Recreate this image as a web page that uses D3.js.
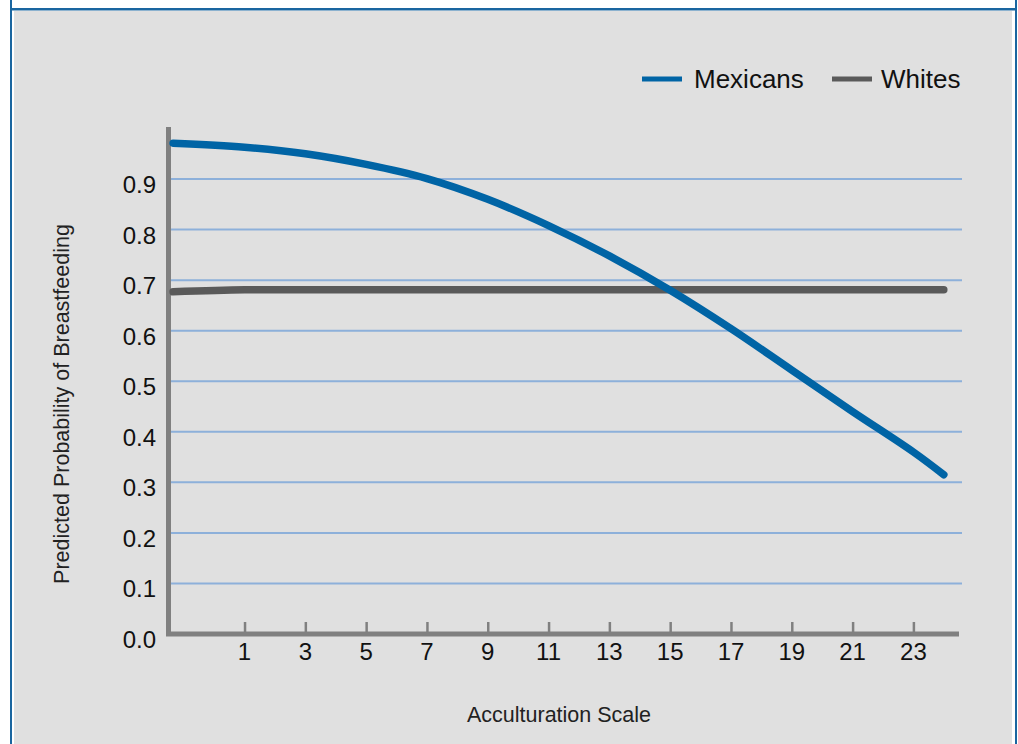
<!DOCTYPE html>
<html>
<head>
<meta charset="utf-8">
<script src="https://cdn.jsdelivr.net/npm/d3@7"></script>
<style>
  body { margin: 0; background: #ffffff; }
  svg { display: block; font-family: "Liberation Sans", Arial, sans-serif; }
</style>
</head>
<body>
<svg id="chart" width="1018" height="744"></svg>
<script>
// ---- data ----
const seriesNames = ["Mexicans", "Whites"];
const xValues = [-1.35, 1, 3, 5, 7, 9, 11, 13, 15, 17, 19, 21, 23, 24];
const mexicans = [0.971, 0.963, 0.950, 0.929, 0.901, 0.860, 0.808, 0.748, 0.680, 0.604, 0.522, 0.440, 0.360, 0.315];
const whites   = [0.677, 0.681, 0.681, 0.681, 0.681, 0.681, 0.681, 0.681, 0.681, 0.681, 0.681, 0.681, 0.681, 0.681];
const xTicks = [1, 3, 5, 7, 9, 11, 13, 15, 17, 19, 21, 23];
const yTicks = [0.0, 0.1, 0.2, 0.3, 0.4, 0.5, 0.6, 0.7, 0.8, 0.9];
const xTitle = "Acculturation Scale";
const yTitle = "Predicted Probability of Breastfeeding";
const colors = ["#0064a5", "#5a5a5a"];

const svg = d3.select("#chart");

// ---- frame ----
svg.append("rect").attr("x", 14).attr("y", 11).attr("width", 998).attr("height", 733).attr("fill", "#e0e0e0");
svg.append("rect").attr("x", 10).attr("y", 0).attr("width", 2).attr("height", 744).attr("fill", "#1a66a0");
svg.append("rect").attr("x", 1015).attr("y", 0).attr("width", 2).attr("height", 744).attr("fill", "#1a66a0");
svg.append("rect").attr("x", 10).attr("y", 8).attr("width", 1007).attr("height", 2.5).attr("fill", "#1a66a0");

// ---- scales ----
const x = d3.scaleLinear().domain([-1.55, 24.5]).range([167, 959]);
const y = d3.scaleLinear().domain([0, 1]).range([634, 128.5]);

// gridlines
svg.append("g").selectAll("line").data(yTicks.filter(d => d > 0)).join("line")
  .attr("x1", 170).attr("x2", 962)
  .attr("y1", d => y(d)).attr("y2", d => y(d))
  .attr("stroke", "#8db0da").attr("stroke-width", 2);

// y tick labels
svg.append("g").selectAll("text").data(yTicks).join("text")
  .attr("x", 156).attr("y", d => y(d) + 14)
  .attr("text-anchor", "end")
  .attr("font-size", 24).attr("fill", "#111")
  .text(d => d.toFixed(1));

// x axis via d3 axis (ticks upward)
const xAxis = svg.append("g").attr("transform", "translate(0,632)")
  .call(d3.axisTop(x).tickValues(xTicks).tickSize(10).tickFormat(""));
xAxis.select(".domain").remove();
xAxis.selectAll(".tick line").attr("stroke", "#808080").attr("stroke-width", 2.5);

svg.append("g").selectAll("text").data(xTicks).join("text")
  .attr("x", d => x(d)).attr("y", 660)
  .attr("text-anchor", "middle")
  .attr("font-size", 24).attr("fill", "#111")
  .text(d => d);

// axis lines
svg.append("line").attr("x1", 168.5).attr("x2", 168.5).attr("y1", 127).attr("y2", 636)
  .attr("stroke", "#808080").attr("stroke-width", 5);
svg.append("line").attr("x1", 166).attr("x2", 959).attr("y1", 634).attr("y2", 634)
  .attr("stroke", "#808080").attr("stroke-width", 5);

// lines
const line = d3.line().x((d, i) => x(xValues[i])).y(d => y(d)).curve(d3.curveCatmullRom.alpha(0.5));
[whites, mexicans].forEach((s) => {
  const c = s === mexicans ? colors[0] : colors[1];
  svg.append("path").attr("d", line(s)).attr("fill", "none")
    .attr("stroke", c).attr("stroke-width", 7.5).attr("stroke-linecap", "round");
});

// legend
const legendX = [642, 832];
const legendTextX = [694, 881];
seriesNames.forEach((n, i) => {
  svg.append("line").attr("x1", legendX[i]).attr("x2", legendX[i] + 40)
    .attr("y1", 79).attr("y2", 79).attr("stroke", colors[i]).attr("stroke-width", 5);
  svg.append("text").attr("x", legendTextX[i]).attr("y", 88)
    .attr("font-size", 26).attr("fill", "#111").text(n);
});

// axis titles
svg.append("text").attr("x", 559).attr("y", 722).attr("text-anchor", "middle")
  .attr("font-size", 21.5).attr("fill", "#222").text(xTitle);
svg.append("text").attr("transform", "translate(69,404) rotate(-90)").attr("text-anchor", "middle")
  .attr("font-size", 21.5).attr("fill", "#222").text(yTitle);
</script>
</body>
</html>
